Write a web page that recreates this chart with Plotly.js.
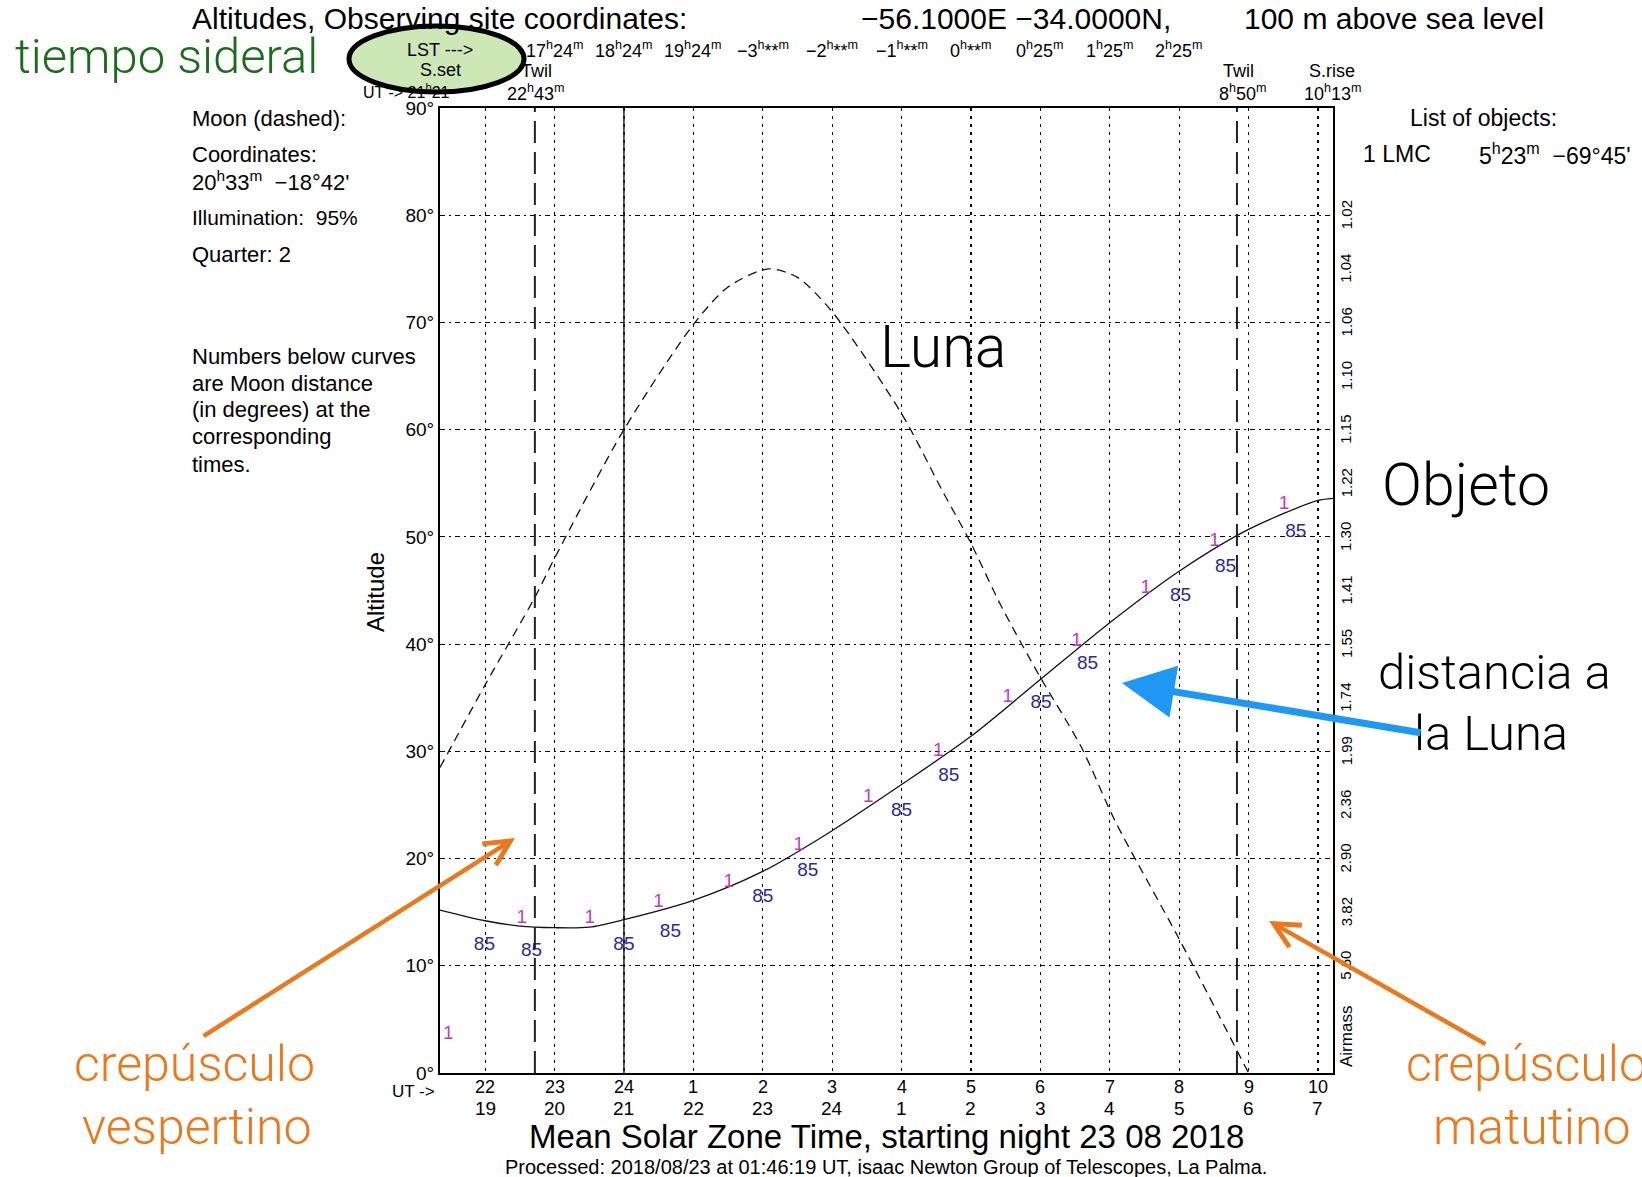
<!DOCTYPE html>
<html>
<head>
<meta charset="utf-8">
<script src="https://cdn.plot.ly/plotly-3.0.1.min.js"></script>
<style>html,body{margin:0;padding:0;background:#fff;}#chart{width:1642px;height:1177px;}</style>
</head>
<body>
<div id="chart"></div>
<script>
// ---------------- data ----------------
const sunsetUT = 21.35;     // 21h21m
const sunriseUT = 34.217;   // 10h13m (next day, continuous hours)
const twilightUT = [22.717, 32.833]; // 22h43m, 8h50m
const midnightUT = 24;

const utHours = [22,23,24,25,26,27,28,29,30,31,32,33,34];
const utLabels = ["22","23","24","1","2","3","4","5","6","7","8","9","10"];
const localLabels = ["19","20","21","22","23","24","1","2","3","4","5","6","7"];

const lstHours = [23,24,25,26,27,28,29,30,31,32];
const lstLabels = ["17<sup>h</sup>24<sup>m</sup>","18<sup>h</sup>24<sup>m</sup>","19<sup>h</sup>24<sup>m</sup>",
  "−3<sup>h</sup>**<sup>m</sup>","−2<sup>h</sup>**<sup>m</sup>","−1<sup>h</sup>**<sup>m</sup>","0<sup>h</sup>**<sup>m</sup>",
  "0<sup>h</sup>25<sup>m</sup>","1<sup>h</sup>25<sup>m</sup>","2<sup>h</sup>25<sup>m</sup>"];

const altTicks = [0,10,20,30,40,50,60,70,80,90];
const altLabels = ["0°","10°","20°","30°","40°","50°","60°","70°","80°","90°"];

const airmassAlt = [80,75,70,65,60,55,50,45,40,35,30,25,20,15,10];
const airmassLabels = ["1.02","1.04","1.06","1.10","1.15","1.22","1.30","1.41","1.55","1.74","1.99","2.36","2.90","3.82","5.60"];

// Object (LMC) altitude curve
const objUT  = [21.35,22,22.5,23,23.5,24,25,26,27,28,29,30,31,32,33,34,34.217];
const objAlt = [15.2,14.2,13.7,13.55,13.6,14.3,16.1,18.8,22.6,26.9,31.4,36.7,42.0,46.8,50.7,53.4,53.6];

// Moon altitude curve (dashed)
const moonUT  = [21.35,22,22.72,23,24,25,25.5,26.08,26.5,27,28,28.58,29,29.44,30,30.59,31.07,32,33.0];
const moonAlt = [28.5,36.2,44.4,48.0,60.0,69.8,73.3,75.0,74.2,71.0,61.5,54.4,49.4,43.5,36.9,30.4,23.6,12.5,0];

// object id labels "1"
const idUT  = [21.47,22.53,23.51,24.5,25.51,26.52,27.52,28.53,29.53,30.52,31.52,32.51,33.51];
const idAlt = [3.6,14.4,14.4,15.9,17.8,21.2,25.7,30.0,35.0,40.3,45.2,49.6,53.0];
const idText = ["1","1","1","1","1","1","1","1","1","1","1","1","1"];

// moon distance labels "85"
const distUT  = [21.99,22.67,24.0,24.67,26.0,26.65,28.0,28.68,30.01,30.68,32.02,32.67,33.68];
const distAlt = [11.9,11.4,11.9,13.1,16.4,18.8,24.4,27.7,34.5,38.1,44.5,47.2,50.4];
const distText = ["85","85","85","85","85","85","85","85","85","85","85","85","85"];

// ---------------- layout helpers ----------------
const L = 440, R = 1333, T = 108, B = 1073;
const PX = x => (x - L) / (R - L);
const PY = y => (B - y) / (B - T);
const FONT = "Liberation Sans, Arial, sans-serif";
const BIG = "Roboto, Liberation Sans, Arial, sans-serif";

function txt(text, x, y, size, opts) {
  opts = opts || {};
  return {
    text: text, xref: 'paper', yref: 'paper', x: PX(x), y: PY(y),
    xanchor: opts.xanchor || 'left', yanchor: 'middle', showarrow: false,
    font: {family: opts.family || FONT, size: size, color: opts.color || '#000', weight: opts.weight},
    textangle: opts.angle || 0
  };
}

const ann = [];
// title
ann.push(txt("Altitudes, Observing site coordinates:", 190, 19, 30));
ann.push(txt("−56.1000E −34.0000N,", 859, 19, 30));
ann.push(txt("100 m above sea level", 1242, 19, 30));
// LST row
lstHours.forEach((h, i) => ann.push({text: lstLabels[i], xref: 'x', yref: 'paper', x: h, y: PY(49),
  xanchor: 'center', yanchor: 'middle', showarrow: false, font: {family: FONT, size: 18, color: '#000'}}));
// sunset / twilight / sunrise info
ann.push(txt("Twil", 536, 71, 18, {xanchor: 'center'}));
ann.push(txt("22<sup>h</sup>43<sup>m</sup>", 536, 93, 18, {xanchor: 'center'}));
ann.push(txt("UT -> 21<sup>h</sup>21", 361, 91, 16));
ann.push(txt("Twil", 1238, 71, 18, {xanchor: 'center'}));
ann.push(txt("8<sup>h</sup>50<sup>m</sup>", 1243, 93, 18, {xanchor: 'center'}));
ann.push(txt("S.rise", 1332, 71, 18, {xanchor: 'center'}));
ann.push(txt("10<sup>h</sup>13<sup>m</sup>", 1333, 93, 18, {xanchor: 'center'}));
// ellipse texts
ann.push(txt("LST --->", 440, 50, 18, {xanchor: 'center'}));
ann.push(txt("S.set", 440, 70, 18, {xanchor: 'center'}));
// left panel
ann.push(txt("Moon (dashed):", 190, 118, 22));
ann.push(txt("Coordinates:", 190, 154, 22));
ann.push(txt("20<sup>h</sup>33<sup>m</sup>  −18°42'", 190, 181, 22));
ann.push(txt("Illumination:  95%", 190, 218, 21));
ann.push(txt("Quarter: 2", 190, 254, 22));
["Numbers below curves","are Moon distance","(in degrees) at the","corresponding","times."].forEach((s, i) =>
  ann.push(txt(s, 190, [356,383,409,437,464][i], 22)));
// right list
ann.push(txt("List of objects:", 1408, 118, 23));
ann.push(txt("1 LMC", 1361, 154, 23));
ann.push(txt("5<sup>h</sup>23<sup>m</sup>  −69°45'", 1477, 154, 23));
// axis titles
ann.push(txt("Altitude", 375, 592, 24, {xanchor: 'center', angle: -90}));
ann.push(txt("Mean Solar Zone Time, starting night 23 08 2018", 886, 1136, 33, {xanchor: 'center'}));
ann.push(txt("Processed: 2018/08/23 at 01:46:19 UT, isaac Newton Group of Telescopes, La Palma.", 886, 1167, 20, {xanchor: 'center'}));
ann.push(txt("UT ->", 437, 1091, 17, {xanchor: 'right'}));
// UT row and local time row under the axis
utHours.forEach((h, i) => ann.push({text: utLabels[i], xref: 'x', yref: 'paper', x: h, y: PY(1087),
  xanchor: 'center', yanchor: 'middle', showarrow: false, font: {family: FONT, size: 18, color: '#000'}}));
utHours.forEach((h, i) => ann.push({text: localLabels[i], xref: 'x', yref: 'paper', x: h, y: PY(1108),
  xanchor: 'center', yanchor: 'middle', showarrow: false, font: {family: FONT, size: 19, color: '#000'}}));
// airmass labels (right side)
airmassAlt.forEach((a, i) => ann.push({text: airmassLabels[i], xref: 'paper', yref: 'y', x: PX(1346), y: a,
  xanchor: 'center', yanchor: 'middle', showarrow: false, textangle: -90, font: {family: FONT, size: 15, color: '#000'}}));
ann.push(txt("Airmass", 1346, 1037, 17, {xanchor: 'center', angle: -90}));

// big handwritten-style annotations
const GREEN = '#1d6b1d', ORANGE = '#e8791f', BLUE = '#1e98f2';
ann.push(txt("tiempo sideral", 13, 57, 49, {family: BIG, color: GREEN, weight: 300}));
ann.push(txt("Luna", 878, 346, 59, {family: BIG, weight: 300}));
ann.push(txt("Objeto", 1380, 484, 59, {family: BIG, weight: 300}));
ann.push(txt("distancia a", 1376, 672, 49, {family: BIG, weight: 300}));
ann.push(txt("la Luna", 1412, 733, 49, {family: BIG, weight: 300}));
ann.push(txt("crepúsculo", 72, 1064, 50, {family: BIG, color: ORANGE, weight: 300}));
ann.push(txt("vespertino", 80, 1127, 50, {family: BIG, color: ORANGE, weight: 300}));
ann.push(txt("crepúsculo", 1404, 1064, 50, {family: BIG, color: ORANGE, weight: 300}));
ann.push(txt("matutino", 1431, 1127, 50, {family: BIG, color: ORANGE, weight: 300}));

// arrows
function arrow(hx, hy, tx, ty, color, width, head, size) {
  return {text: '', xref: 'paper', yref: 'paper', x: PX(hx), y: PY(hy), ax: tx - hx, ay: ty - hy,
    showarrow: true, arrowcolor: color, arrowwidth: width, arrowhead: head, arrowsize: size, standoff: 0, startstandoff: 0};
}
ann.push(arrow(1122, 683, 1422, 733, BLUE, 7, 2, 1.5));
ann.push(arrow(515, 838, 202, 1037, ORANGE, 4.5, 5, 1.1));
ann.push(arrow(1269, 921, 1487, 1045, ORANGE, 4.5, 5, 1.1));

// shapes: twilight lines, midnight line, ellipse
const shapes = [];
twilightUT.forEach(u => shapes.push({type: 'line', xref: 'x', yref: 'paper', x0: u, x1: u, y0: 0, y1: 1,
  line: {color: '#222', width: 2, dash: '22px,9px'}, layer: 'above'}));
shapes.push({type: 'line', xref: 'x', yref: 'paper', x0: midnightUT, x1: midnightUT, y0: 0, y1: 1,
  line: {color: '#222', width: 1.5}, layer: 'above'});
shapes.push({type: 'circle', xref: 'paper', yref: 'paper', x0: PX(349), x1: PX(524), y0: PY(92), y1: PY(26),
  fillcolor: '#cde8b6', line: {color: '#000', width: 5}, layer: 'above'});

const traces = [
  {x: objUT, y: objAlt, mode: 'lines', line: {color: '#111', width: 1.3, shape: 'spline', smoothing: 0.8}, hoverinfo: 'skip'},
  {x: moonUT, y: moonAlt, mode: 'lines', line: {color: '#111', width: 1.3, dash: '9px,6px', shape: 'spline', smoothing: 0.8}, hoverinfo: 'skip'},
  {x: idUT, y: idAlt, mode: 'text', text: idText, textfont: {family: FONT, size: 19, color: '#c23ac2'}, cliponaxis: false, hoverinfo: 'skip'},
  {x: distUT, y: distAlt, mode: 'text', text: distText, textfont: {family: FONT, size: 19, color: '#2a2a9c'}, cliponaxis: false, hoverinfo: 'skip'}
];

const layout = {
  width: 1642, height: 1177,
  margin: {l: L, r: 1642 - R, t: T, b: 1177 - B, pad: 0},
  paper_bgcolor: '#fff', plot_bgcolor: '#fff',
  showlegend: false,
  font: {family: FONT, color: '#000'},
  xaxis: {
    range: [sunsetUT, sunriseUT], tickmode: 'array', tickvals: utHours, showticklabels: false,
    showgrid: true, gridcolor: '#000', gridwidth: 1.2, griddash: '3px,5px',
    showline: true, mirror: true, linecolor: '#000', linewidth: 2, zeroline: false, ticks: ''
  },
  yaxis: {
    range: [0, 90], tickmode: 'array', tickvals: altTicks, ticktext: altLabels,
    tickfont: {family: FONT, size: 19, color: '#000'},
    showgrid: true, gridcolor: '#000', gridwidth: 1.2, griddash: '5px,4px,2px,4px',
    showline: true, mirror: true, linecolor: '#000', linewidth: 2, zeroline: false, ticks: ''
  },
  annotations: ann,
  shapes: shapes
};

Plotly.newPlot('chart', traces, layout, {displayModeBar: false, staticPlot: true});
</script>
</body>
</html>
